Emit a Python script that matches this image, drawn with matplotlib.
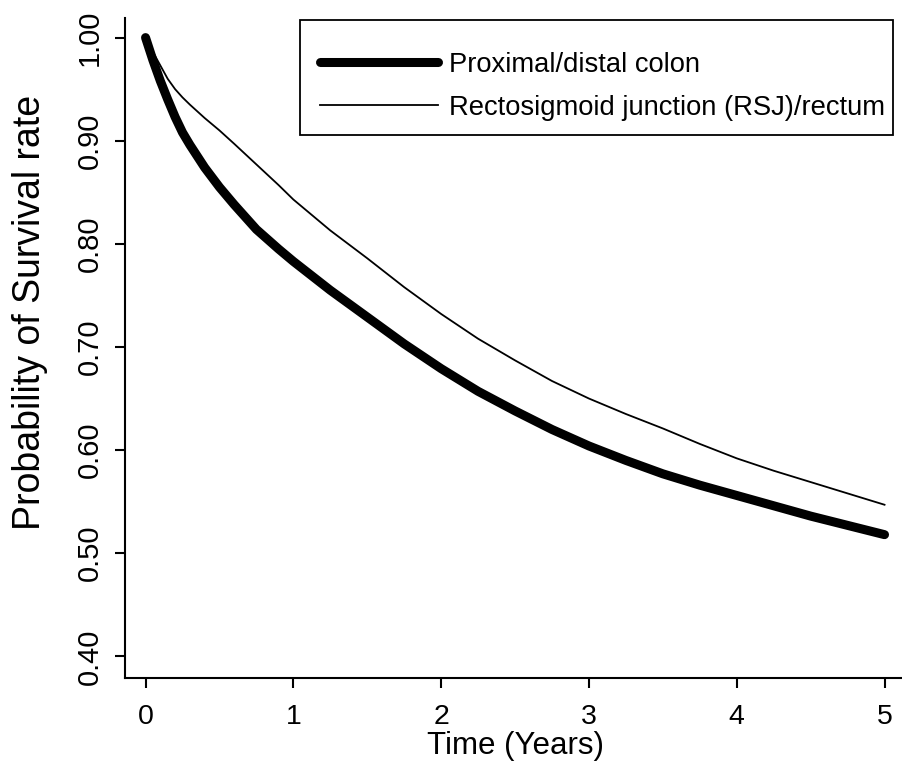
import matplotlib
matplotlib.use('Agg')
import matplotlib.pyplot as plt
from matplotlib.patches import Rectangle

plt.rcParams['font.family'] = ['Liberation Sans', 'DejaVu Sans']

# Time points (years).
years = [0, 0.05, 0.1, 0.15, 0.2, 0.25, 0.3, 0.4, 0.5, 0.6, 0.75, 0.9, 1.0,
         1.25, 1.5, 1.75, 2.0, 2.25, 2.5, 2.75, 3.0, 3.25, 3.5, 3.75, 4.0,
         4.25, 4.5, 4.75, 5.0]

# Survival probability for each site.
colon = [1.000, 0.978, 0.958, 0.940, 0.923, 0.908, 0.896, 0.874, 0.855,
         0.838, 0.814, 0.795, 0.783, 0.755, 0.729, 0.703, 0.679, 0.657,
         0.638, 0.620, 0.604, 0.590, 0.577, 0.566, 0.556, 0.546, 0.536,
         0.527, 0.518]
rectum = [1.000, 0.986, 0.973, 0.960, 0.950, 0.942, 0.935, 0.922, 0.910,
          0.897, 0.877, 0.857, 0.843, 0.813, 0.786, 0.758, 0.732, 0.708,
          0.687, 0.667, 0.650, 0.635, 0.621, 0.606, 0.592, 0.580, 0.569,
          0.558, 0.547]

labels = ['Proximal/distal colon', 'Rectosigmoid junction (RSJ)/rectum']
x_ticks = [0, 1, 2, 3, 4, 5]
y_ticks = [0.40, 0.50, 0.60, 0.70, 0.80, 0.90, 1.00]

W, H = 903, 767
fig = plt.figure(figsize=(W / 100, H / 100), dpi=100)
ax = fig.add_axes([125 / W, 1 - 678 / H, 1 - 125 / W, (678 - 18) / H])

ax.plot(years, colon, color='black', lw=6.5, solid_capstyle='round',
        solid_joinstyle='round', label=labels[0])
ax.plot(years, rectum, color='black', lw=1.3, label=labels[1])

ax.set_xlim(-0.139, 5.125)
ax.set_ylim(0.379, 1.019)
ax.set_xticks(x_ticks)
ax.set_yticks(y_ticks)
ax.set_yticklabels(['%.2f' % v for v in y_ticks], rotation=90, va='center')

for side in ['top', 'right']:
    ax.spines[side].set_visible(False)
for side in ['left', 'bottom']:
    ax.spines[side].set_linewidth(1.5)

ax.tick_params(axis='x', length=7, width=1.5, pad=12, labelsize=20.5)
ax.tick_params(axis='y', length=7, width=1.5, pad=8, labelsize=21)

fig.text(516 / W, 1 - 746 / H, 'Time (Years)', ha='center', va='center',
         fontsize=22.5)
fig.text(30 / W, 1 - 312 / H, 'Probability of Survival rate', rotation=90,
         ha='center', va='center', fontsize=27)

# Legend entries without frame, box drawn separately to match padding.
leg = ax.legend(loc='upper left', bbox_to_anchor=(320 / W, 1 - 52 / H),
                bbox_transform=fig.transFigure, borderaxespad=0,
                borderpad=0, fontsize=19.7, frameon=False,
                handlelength=4.3, handletextpad=0.4, labelspacing=0.62)
fig.patches.append(Rectangle((300 / W, 1 - 135 / H), 593 / W, 115 / H,
                             transform=fig.transFigure, fill=False,
                             edgecolor='black', linewidth=1.3))

fig.savefig('out.png', dpi=100)
